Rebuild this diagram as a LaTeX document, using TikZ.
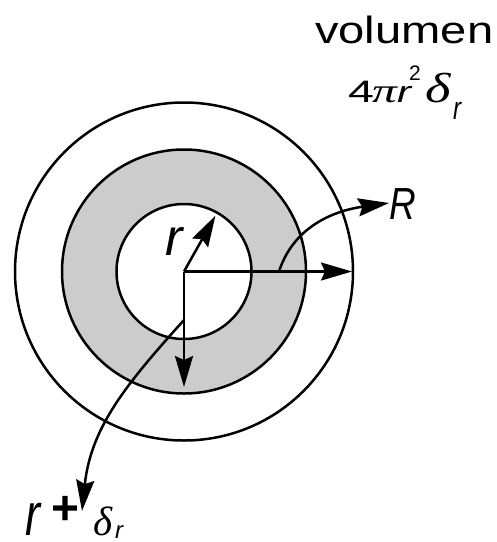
\documentclass[tikz,border=0pt]{standalone}
\usepackage{fontspec}
\setmainfont{Liberation Sans}
\newfontfamily\greekfont{Liberation Serif}
\usetikzlibrary{arrows.meta,calc}
\definecolor{ringgray}{RGB}{204,204,204}
\newcommand{\grk}[1]{{\greekfont\itshape #1}}
\begin{document}
\begin{tikzpicture}[x=1pt,y=1pt,
  ringline/.style={line width=2.5pt, black},
  arr/.style={line width=2.5pt, -{Stealth[length=31pt,width=18pt,inset=4pt]}},
  lbl/.style={inner sep=0pt, anchor=base west}]
\useasboundingbox (0,0) rectangle (497,-542);
\coordinate (C) at (184,-271.5);
% shaded shell
\fill[ringgray, even odd rule] (C) circle (122pt) (C) circle (67.5pt);
\draw[ringline] (C) circle (169pt);
\draw[ringline] (C) circle (122pt);
\draw[ringline] (C) circle (67.5pt);
% arrow tips
\coordinate (rtip) at ($(C)+(60.6:64pt)$);
\coordinate (Rtip) at (352,-271.5);
\coordinate (dtip) at (184,-387);
\coordinate (Rs) at (279,-271.5);
\coordinate (Re) at (389,-203);
\coordinate (ds) at (184,-320);
\coordinate (de) at (82,-511);
\draw[arr] (C) -- (rtip);
\draw[arr] (C) -- (Rtip);
\draw[arr] (C) -- (dtip);
\draw[arr] (Rs) to[out=72,in=188] (Re);
\draw[arr] (ds) to[out=-132,in=84] (de);
% labels
\node[lbl] (vol) at (315,-43.3) {\fontsize{38}{40}\selectfont\scalebox{1.24}[1]{volumen}};
\node[lbl] (form) at (348,-102) {%
\makebox[24pt][l]{\scalebox{1.5}[1]{\fontsize{31}{31}\selectfont 4}}%
\makebox[25pt][l]{\scalebox{1.45}[1]{\fontsize{34}{34}\selectfont\grk{π}}}%
\makebox[12pt][l]{\scalebox{1.4}[1]{\fontsize{30}{30}\selectfont\textit{r}}}%
\makebox[16pt][l]{\raisebox{22pt}{\fontsize{21}{21}\selectfont 2}}%
\makebox[28pt][l]{\scalebox{1.3}[1]{\fontsize{42}{42}\selectfont\grk{δ}}}%
\raisebox{-17pt}{\scalebox{0.75}[1]{\fontsize{32}{32}\selectfont\textit{r}}}};
\node[lbl] (rin) at (165,-255) {\fontsize{52}{52}\selectfont\textit{r}};
\node[lbl] (Rlab) at (389,-219) {\fontsize{45}{45}\selectfont\scalebox{0.82}[1]{\textit{R}}};
\node[lbl] (rdl) at (25,-535) {%
\makebox[26pt][l]{\scalebox{0.75}[1]{\fontsize{60}{60}\selectfont\textit{r}}}%
\makebox[42pt][l]{\raisebox{11pt}{\resizebox{28pt}{!}{\textbf{+}}}}%
\makebox[22pt][l]{\fontsize{41}{41}\selectfont\grk{δ}}%
\raisebox{-3pt}{\fontsize{24}{24}\selectfont\textit{r}}};
\end{tikzpicture}
\end{document}
